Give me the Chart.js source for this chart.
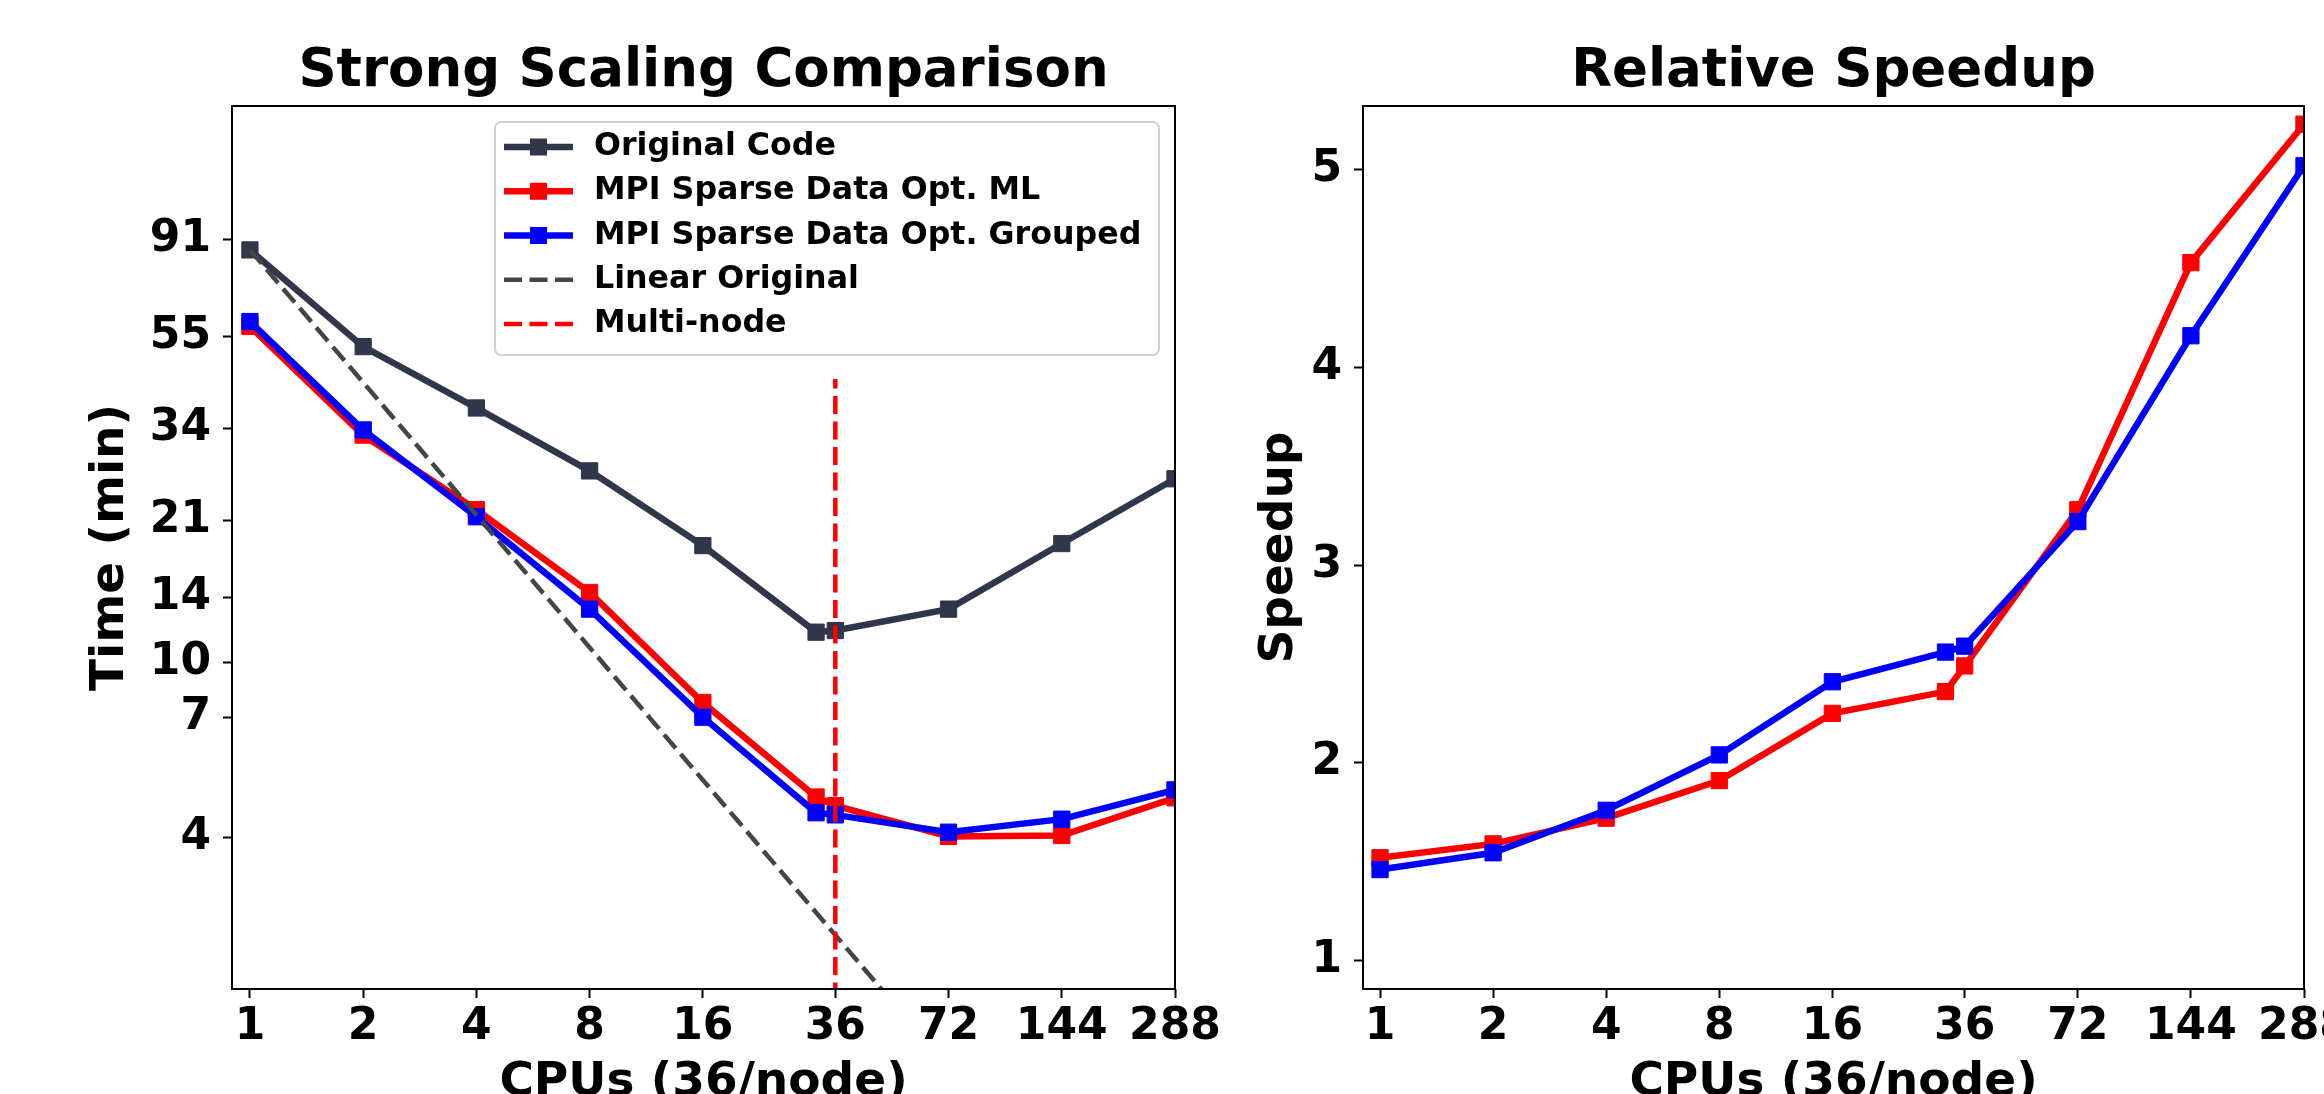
<!DOCTYPE html>
<html>
<head>
<meta charset="utf-8">
<title>Strong Scaling Comparison</title>
<script src="https://cdn.jsdelivr.net/npm/chart.js@4.4.1/dist/chart.umd.min.js"></script>
<style>
    html, body { margin: 0; padding: 0; background: #fff; overflow: hidden; width: 2324px; height: 1094px; }
    #timeChart { position: absolute; left: 0; top: 0; }
    #speedupChart { position: absolute; left: 1200px; top: 0; }
</style>
</head>
<body>
<canvas id="timeChart" width="1250" height="1140"></canvas>
<canvas id="speedupChart" width="1200" height="1140"></canvas>
<script>
// Values
const cpus = [1, 2, 4, 8, 16, 32, 36, 72, 144, 288];
const cpuTicks = [1, 2, 4, 8, 16, 36, 72, 144, 288];
// the "7" tick sits a little above 7 in the original plot
const timeTicks = [4, 7.5, 10, 14, 21, 34, 55, 91];
const timeTickLabels = ['4', '7', '10', '14', '21', '34', '55', '91'];
const speedupTicks = [1, 2, 3, 4, 5];
const speedupTickLabels = ['1', '2', '3', '4', '5'];

const originalTime = [86.4, 52.1, 37.8, 27.2, 18.4, 11.7, 11.8, 13.2, 18.6, 26.1];
const mlTime = [57.9, 32.8, 22.2, 14.4, 8.1, 4.94, 4.72, 4.02, 4.04, 4.92];
const groupedTime = [59.4, 33.7, 21.4, 13.2, 7.5, 4.55, 4.5, 4.11, 4.4, 5.13];

// ideal scaling line
const linearCpus = [1, 2, 4, 8, 16, 32, 64];
const linearTime = [86.4, 43.2, 21.6, 10.8, 5.4, 2.7, 1.35];

const multiNodeCpus = [36, 36];
const multiNodeTime = [1, 44];

const mlSpeedup = [1.52, 1.59, 1.72, 1.91, 2.25, 2.36, 2.49, 3.28, 4.53, 5.23];
const groupedSpeedup = [1.46, 1.545, 1.76, 2.04, 2.41, 2.56, 2.59, 3.22, 4.16, 5.02];

// Colours
const navy = '#31374a';
const red = '#ff0000';
const blue = '#0000ff';
const gray = '#454545';

// Legend box placement (canvas pixels)
const legendLayout = {
    left: 495, top: 122, width: 664, height: 233,
    firstRow: 147, rowGap: 44.25,
    lineStart: 504, lineEnd: 573, marker: 17, textX: 594
};

Chart.defaults.font.family = "'DejaVu Sans', sans-serif";
Chart.defaults.font.weight = 'bold';
Chart.defaults.color = '#000';

function toPoints(xs, ys) {
    return xs.map((x, i) => ({ x: x, y: ys[i] }));
}

function lineSet(label, xs, ys, color, order) {
    return {
        label: label,
        data: toPoints(xs, ys),
        borderColor: color,
        backgroundColor: color,
        borderWidth: 6.5,
        pointStyle: 'rect',
        pointRadius: 11.5,
        pointBorderWidth: 1,
        pointBackgroundColor: color,
        pointBorderColor: color,
        clip: 0,
        order: order
    };
}

function dashedSet(label, xs, ys, color, order) {
    return {
        label: label,
        data: toPoints(xs, ys),
        borderColor: color,
        borderWidth: 4.5,
        borderDash: [18, 7.5],
        pointRadius: 0,
        clip: 0,
        order: order
    };
}

// Black box round the plot area, like the matplotlib spines
const framePlugin = {
    id: 'frame',
    afterDatasetsDraw(chart) {
        const { ctx, chartArea: a } = chart;
        ctx.save();
        ctx.strokeStyle = '#000';
        ctx.lineWidth = 2;
        ctx.strokeRect(a.left, a.top, a.right - a.left, a.bottom - a.top);
        ctx.restore();
    }
};

// Boxed legend in the upper right of the time chart
const legendPlugin = {
    id: 'boxLegend',
    afterDraw(chart) {
        const ctx = chart.ctx;
        const L = legendLayout;
        ctx.save();
        ctx.beginPath();
        ctx.roundRect(L.left, L.top, L.width, L.height, 6);
        ctx.fillStyle = 'rgba(255,255,255,0.8)';
        ctx.fill();
        ctx.lineWidth = 2;
        ctx.strokeStyle = '#d0d0d0';
        ctx.stroke();

        chart.data.datasets.forEach((ds, i) => {
            const y = L.firstRow + i * L.rowGap;
            ctx.setLineDash(ds.borderDash || []);
            ctx.strokeStyle = ds.borderColor;
            ctx.lineWidth = ds.borderWidth;
            ctx.beginPath();
            ctx.moveTo(L.lineStart, y);
            ctx.lineTo(L.lineEnd, y);
            ctx.stroke();
            ctx.setLineDash([]);

            if (ds.pointRadius > 0) {
                const s = L.marker;
                ctx.fillStyle = ds.borderColor;
                ctx.fillRect((L.lineStart + L.lineEnd) / 2 - s / 2, y - s / 2, s, s);
            }

            ctx.fillStyle = '#000';
            ctx.font = "bold 31.7px 'DejaVu Sans'";
            ctx.textBaseline = 'middle';
            ctx.textAlign = 'left';
            ctx.fillText(ds.label, L.textX, y);
        });
        ctx.restore();
    }
};

function xScale(min) {
    return {
        type: 'logarithmic',
        min: min,
        max: 288,
        afterBuildTicks: s => { s.ticks = cpuTicks.map(v => ({ value: v })); },
        afterFit: s => { s.height = 151; s.paddingLeft = 0; s.paddingRight = 0; },
        ticks: {
            callback: v => String(v),
            autoSkip: false,
            maxRotation: 0,
            padding: 3,
            font: { size: 44, weight: 'bold' }
        },
        grid: { drawOnChartArea: false, tickLength: 9, tickWidth: 2, tickColor: '#000' },
        border: { display: false },
        title: {
            display: true,
            text: 'CPUs (36/node)',
            font: { size: 47, weight: 'bold' },
            padding: { top: 0, bottom: 29 }
        }
    };
}

function yScale(type, min, max, ticks, labels, width, label, titlePad) {
    return {
        type: type,
        min: min,
        max: max,
        afterBuildTicks: s => { s.ticks = ticks.map(v => ({ value: v })); },
        afterFit: s => { s.width = width; s.paddingTop = 0; s.paddingBottom = 0; },
        ticks: {
            callback: (v, i) => labels[i],
            autoSkip: false,
            padding: 12,
            font: { size: 44, weight: 'bold' }
        },
        grid: { drawOnChartArea: false, tickLength: 9, tickWidth: 2, tickColor: '#000' },
        border: { display: false },
        title: {
            display: true,
            text: label,
            font: { size: 47, weight: 'bold' },
            padding: { top: titlePad, bottom: 0 }
        }
    };
}

function titleOptions(text) {
    return {
        display: true,
        text: text,
        fullSize: false,
        font: { size: 53, weight: 'bold' },
        padding: { top: 40, bottom: 2.4 }
    };
}

function setupTimeChart() {
    const ctx = document.getElementById('timeChart').getContext('2d');
    return new Chart(ctx, {
        type: 'line',
        data: {
            datasets: [
                lineSet('Original Code', cpus, originalTime, navy, 5),
                lineSet('MPI Sparse Data Opt. ML', cpus, mlTime, red, 4),
                lineSet('MPI Sparse Data Opt. Grouped', cpus, groupedTime, blue, 3),
                dashedSet('Linear Original', linearCpus, linearTime, gray, 2),
                dashedSet('Multi-node', multiNodeCpus, multiNodeTime, red, 1)
            ]
        },
        options: {
            responsive: false,
            animation: false,
            devicePixelRatio: 1,
            events: [],
            layout: { padding: { left: 0, top: 0, right: 75, bottom: 0 } },
            plugins: {
                legend: { display: false },
                tooltip: { enabled: false },
                title: titleOptions('Strong Scaling Comparison')
            },
            scales: {
                x: xScale(0.896),
                y: yScale('logarithmic', 1.81, 183.4, timeTicks, timeTickLabels, 232, 'Time (min)', 83)
            }
        },
        plugins: [framePlugin, legendPlugin]
    });
}

function setupSpeedupChart() {
    const ctx = document.getElementById('speedupChart').getContext('2d');
    return new Chart(ctx, {
        type: 'line',
        data: {
            datasets: [
                lineSet('MPI Sparse Data Opt. ML', cpus, mlSpeedup, red, 2),
                lineSet('MPI Sparse Data Opt. Grouped', cpus, groupedSpeedup, blue, 1)
            ]
        },
        options: {
            responsive: false,
            animation: false,
            devicePixelRatio: 1,
            events: [],
            layout: { padding: { left: 0, top: 0, right: 96, bottom: 0 } },
            plugins: {
                legend: { display: false },
                tooltip: { enabled: false },
                title: titleOptions('Relative Speedup')
            },
            scales: {
                x: xScale(0.901),
                y: yScale('linear', 0.856, 5.322, speedupTicks, speedupTickLabels, 163, 'Speedup', 52)
            }
        },
        plugins: [framePlugin]
    });
}

setupTimeChart();
setupSpeedupChart();
</script>
</body>
</html>
